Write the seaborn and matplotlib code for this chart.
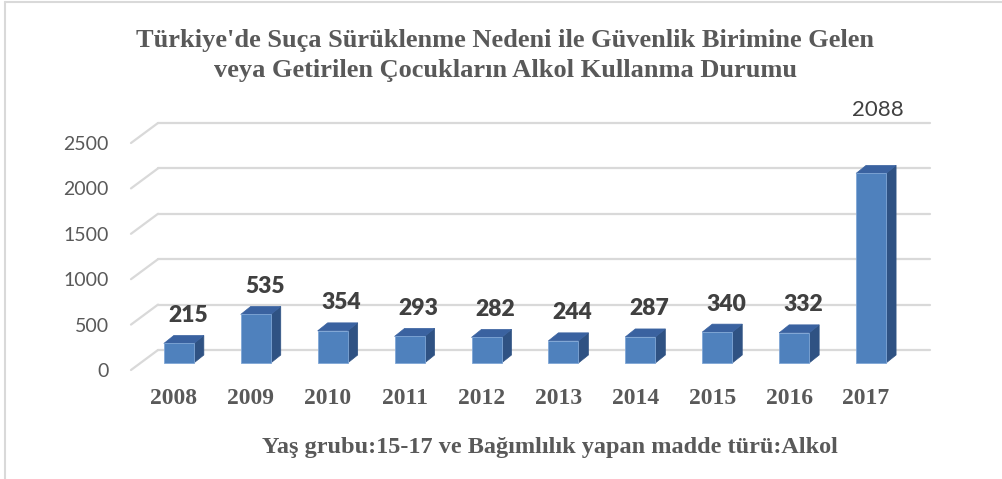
import numpy as np
import pandas as pd
import seaborn as sns
import matplotlib.pyplot as plt
from matplotlib.transforms import offset_copy, IdentityTransform
from matplotlib.patches import Polygon
from matplotlib.lines import Line2D

#%% data
years = ['2008', '2009', '2010', '2011', '2012', '2013', '2014', '2015', '2016', '2017']
counts = [215, 535, 354, 293, 282, 244, 287, 340, 332, 2088]
yticks = [0, 500, 1000, 1500, 2000, 2500]

title_l1 = "Türkiye'de Suça Sürüklenme Nedeni ile Güvenlik Birimine Gelen"
title_l2 = 'veya Getirilen Çocukların Alkol Kullanma Durumu'
xlab = 'Yaş grubu:15-17 ve Bağımlılık yapan madde türü:Alkol'

df = pd.DataFrame({'year': years, 'count': counts})

#%% style
sns.set_style('white')
plt.rcParams['font.family'] = ['Lato', 'DejaVu Sans']
front_col = '#4f81bd'
side_col = '#2f5283'
top_col = '#3a62a0'
grid_col = '#d9d9d9'
txt_col = '#595959'

W, H = 1002, 479
fig = plt.figure(figsize=(W / 100, H / 100), dpi=100)
ax = fig.add_axes([131 / W, (H - 370) / H, 772 / W, 227 / H])

sns.barplot(data=df, x='year', y='count', color=front_col, width=0.39,
            saturation=1, ax=ax, zorder=3)
ax.set_xlim(-0.557, 9.48)
ax.set_ylim(0, 2500)

# depth settings (pixels)
bar_dx, bar_dy = 5, 7        # bar front face shift from floor front
dep_x, dep_y = 10, 8         # bar depth
wall_dx, wall_dy = 27, 20    # back wall shift

bar_tr = offset_copy(ax.transData, fig, x=bar_dx, y=bar_dy, units='dots')
wall_tr = offset_copy(ax.transData, fig, x=wall_dx, y=wall_dy, units='dots')

# gridlines on back wall + slanted side lines
x0, x1 = ax.get_xlim()
for v in yticks:
    ax.plot([x0, x1], [v, v], color=grid_col, lw=1.6, transform=wall_tr,
            zorder=1, clip_on=False)
    p = ax.transData.transform((x0, v))
    fig.add_artist(Line2D([p[0], p[0] + wall_dx], [p[1], p[1] + wall_dy],
                          color=grid_col, lw=1.6, transform=IdentityTransform(),
                          zorder=1))

# 3d faces for bars
for patch in ax.patches:
    patch.set_transform(bar_tr)
    patch.set_edgecolor('#7fa6d6')
    patch.set_linewidth(0.6)
    bx, by = patch.get_x(), patch.get_y()
    bw, bh = patch.get_width(), patch.get_height()
    (l, b) = bar_tr.transform((bx, by))
    (r, t) = bar_tr.transform((bx + bw, by + bh))
    side = Polygon([(r, b), (r + dep_x, b + dep_y), (r + dep_x, t + dep_y), (r, t)],
                   closed=True, facecolor=side_col, edgecolor=side_col, lw=0.5,
                   transform=IdentityTransform(), zorder=2)
    top = Polygon([(l, t), (l + dep_x, t + dep_y), (r + dep_x, t + dep_y), (r, t)],
                  closed=True, facecolor=top_col, edgecolor=top_col, lw=0.5,
                  transform=IdentityTransform(), zorder=2)
    ax.add_patch(side)
    ax.add_patch(top)

# data labels
lab_tr = offset_copy(ax.transData, fig, x=bar_dx + 9, y=bar_dy + 28, units='dots')
top_tr = offset_copy(ax.transData, fig, x=bar_dx + 7, y=wall_dy + 13, units='dots')
vmax = max(counts)
for i, v in enumerate(counts):
    if v == vmax:
        ax.text(i, yticks[-1], str(v), transform=top_tr, ha='center', va='center',
                fontsize=16, color='#404040', zorder=5)
    else:
        ax.text(i, v, str(v), transform=lab_tr, ha='center', va='center',
                fontsize=16.5, fontweight='heavy', color='#404040', zorder=5)

# axes cosmetics
sns.despine(ax=ax, left=True, bottom=True)
ax.set_yticks(yticks)
ax.set_yticklabels([str(v) for v in yticks], fontsize=14, color=txt_col)
ax.tick_params(axis='y', length=0, pad=16)
ax.tick_params(axis='x', length=0, pad=13)
for lbl in ax.get_xticklabels():
    lbl.set_fontfamily('Liberation Serif')
    lbl.set_fontweight('bold')
    lbl.set_fontsize(17)
    lbl.set_color(txt_col)
ax.set_xlabel('')
ax.set_ylabel('')
ax.patch.set_alpha(0)

fig.text(505 / W, 1 - 40 / H, title_l1, ha='center', va='center', fontsize=19,
         fontweight='bold', family='Liberation Serif', color=txt_col)
fig.text(505 / W, 1 - 71 / H, title_l2, ha='center', va='center', fontsize=19,
         fontweight='bold', family='Liberation Serif', color=txt_col)
fig.text(550 / W, 1 - 447 / H, xlab, ha='center', va='center', fontsize=17.5,
         fontweight='bold', family='Liberation Serif', color=txt_col)

# chart frame (left and top edges)
fig.add_artist(Line2D([5 / W, 5 / W], [0, 1 - 2 / H], color='#d9d9d9', lw=1.5,
                      transform=fig.transFigure))
fig.add_artist(Line2D([5 / W, 1], [1 - 2 / H, 1 - 2 / H], color='#d9d9d9', lw=1.5,
                      transform=fig.transFigure))

fig.savefig('out.png', dpi=100, facecolor='white')
